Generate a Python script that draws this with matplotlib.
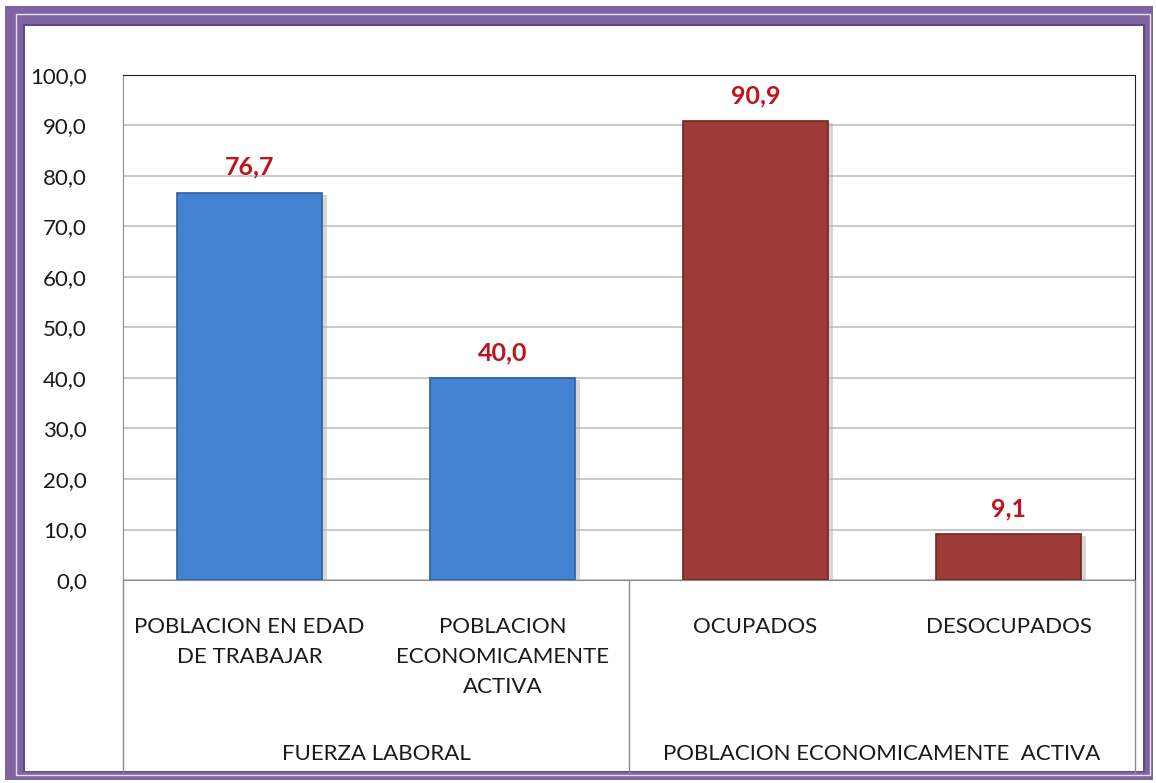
import matplotlib.pyplot as plt
from matplotlib.patches import Rectangle
from matplotlib.transforms import blended_transform_factory

plt.rcParams['font.family'] = ['Lato', 'DejaVu Sans']

# datos
categorias = ['POBLACION EN EDAD\nDE TRABAJAR', 'POBLACION\nECONOMICAMENTE\nACTIVA',
              'OCUPADOS', 'DESOCUPADOS']
valores = [76.7, 40.0, 90.9, 9.1]
grupos = ['FUERZA LABORAL', 'POBLACION ECONOMICAMENTE  ACTIVA']
colores = ['#4383D4', '#4383D4', '#9E3A38', '#9E3A38']
bordes = ['#2F5F9E', '#2F5F9E', '#6E2624', '#6E2624']

fig = plt.figure(figsize=(11.56, 7.83), dpi=100)

# marco morado
fig.patches.append(Rectangle((5 / 1156, 3 / 783), 1148 / 1156, 774 / 783, transform=fig.transFigure,
                             facecolor='#8064A2', edgecolor='none', zorder=0))
fig.patches.append(Rectangle((16 / 1156, 8 / 783), 1134 / 1156, 761 / 783, transform=fig.transFigure,
                             facecolor='none', edgecolor='#E8E0F0', linewidth=1, zorder=1))
fig.patches.append(Rectangle((23 / 1156, 11 / 783), 1122 / 1156, 748 / 783, transform=fig.transFigure,
                             facecolor='#604A7B', edgecolor='none', zorder=1))
fig.patches.append(Rectangle((25 / 1156, 12 / 783), 1118 / 1156, 745 / 783, transform=fig.transFigure,
                             facecolor='white', edgecolor='none', zorder=2))

ax = fig.add_axes([123 / 1156, 1 - 580 / 783, 1012 / 1156, 505 / 783])
ax.set_zorder(3)

x = range(len(valores))
# sombra
ax.bar([i + 0.02 for i in x], [v - 0.4 for v in valores], width=0.57, color='#B0B0B0',
       alpha=0.5, zorder=2)
ax.bar(x, valores, width=0.57, color=colores, edgecolor=bordes, linewidth=1.2, zorder=3)

for i, v in enumerate(valores):
    ax.annotate(f'{v:.1f}'.replace('.', ','), (i, v), xytext=(0, 10), textcoords='offset points',
                ha='center', va='bottom', color='#C0141C', fontsize=18, fontweight='bold')

ax.set_xlim(-0.5, 3.5)
ax.set_ylim(0, 100)
ax.set_yticks(range(0, 101, 10))
ax.set_yticklabels([f'{t:.1f}'.replace('.', ',') for t in range(0, 101, 10)], fontsize=16,
                   color='#1A1A1A')
ax.tick_params(axis='y', length=0, pad=26)
ax.set_xticks([])
ax.grid(axis='y', color='#BFBFBF', linewidth=1.2, zorder=0)
ax.set_axisbelow(True)
for s in ['left', 'bottom']:
    ax.spines[s].set_color('#8C8C8C')
for s in ['top', 'right']:
    ax.spines[s].set_color('#202020')

# etiquetas de categoria y grupo
trans = blended_transform_factory(ax.transData, ax.transAxes)
for i, c in enumerate(categorias):
    ax.text(i, -0.074, c, transform=trans, ha='center', va='top', fontsize=16,
            linespacing=1.6, color='#1A1A1A')
for j, g in enumerate(grupos):
    ax.text(0.5 + 2 * j, -0.345, g, transform=trans, ha='center', va='center', fontsize=16,
            color='#1A1A1A')
for xx in [-0.5, 1.5, 3.5]:
    ax.plot([xx, xx], [0, -0.385], transform=trans, color='#8C8C8C', linewidth=1, clip_on=False)

fig.savefig('out.png', dpi=100)
